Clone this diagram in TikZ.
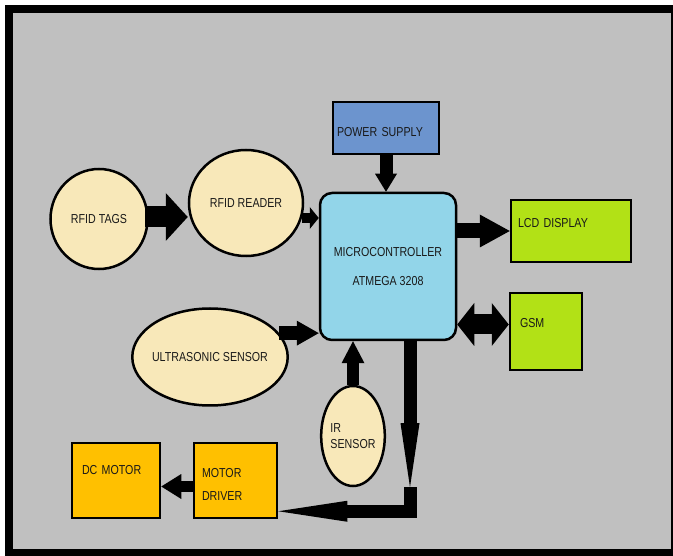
\documentclass[tikz,border=0pt]{standalone}
\usepackage{fontspec}
\setmainfont{Liberation Sans}[FakeStretch=0.82]
\usepackage{tikz}
\usetikzlibrary{arrows.meta,shapes.geometric,calc}
\definecolor{BgGray}{RGB}{192,192,192}
\definecolor{PsBlue}{RGB}{108,148,206}
\definecolor{McBlue}{RGB}{146,213,233}
\definecolor{Lime}{RGB}{178,225,22}
\definecolor{Amber}{RGB}{255,192,0}
\definecolor{Beige}{RGB}{248,232,185}
\definecolor{Ink}{RGB}{25,25,25}

\begin{document}
\begin{tikzpicture}[x=1pt, y=-1pt,
 oval/.style={draw=black, line width=2.5pt, ellipse, fill=Beige, inner sep=0pt, align=center},
 box/.style={draw=black, line width=2.5pt, align=left, inner ysep=0pt},
 ctrl/.style={draw=black, line width=2.5pt, rounded corners=12pt, fill=McBlue, align=center},
 arr/.style n args={3}{line width=#1, line join=miter, -{Triangle[length=#2,width=#3,line width=0pt]}},
 darr/.style n args={3}{line width=#1, {Triangle[length=#2,width=#3,line width=0pt]}-{Triangle[length=#2,width=#3,line width=0pt]}},
 font=\fontsize{13}{15}\selectfont, text=Ink
]
% frame
\fill[white] (0,0) rectangle (673,556);
\fill[black] (5,5) rectangle (673,556);
\fill[BgGray] (13,13) rectangle (671,549);

\node[box, fill=PsBlue, minimum width=106pt, minimum height=52pt, text width=98pt, text height=17pt, text depth=0.4pt] (power) at (386,128) {POWER SUPPLY};
\node[ctrl, minimum width=136pt, minimum height=147pt] (mc) at (388,266.5) {MICROCONTROLLER\\[14pt]ATMEGA 3208};
\node[box, fill=Lime, minimum width=120pt, minimum height=62pt, inner xsep=7pt, text width=106pt, text height=9pt, text depth=16.4pt] (lcd) at (571,231) {LCD DISPLAY};
\node[box, fill=Lime, minimum width=72pt, minimum height=77pt, inner xsep=10pt, text width=52pt, text height=9pt, text depth=17.4pt] (gsm) at (546,331.5) {GSM};
\node[box, fill=Amber, minimum width=88pt, minimum height=75pt, inner xsep=10pt, text width=68pt, text height=9pt, text depth=21.4pt] (motor) at (116,480.5) {DC MOTOR};
\node[box, fill=Amber, minimum width=83pt, minimum height=75pt, inner xsep=8pt, text width=67pt, text height=17pt] (driver) at (235.5,480.5) {MOTOR\\[9pt]DRIVER};

\node[oval, minimum width=97pt, minimum height=100pt] (tags) at (99,219) {RFID TAGS};
\node[oval, minimum width=114pt, minimum height=106pt] (reader) at (246,203) {RFID READER};
\node[oval, minimum width=154pt, minimum height=97pt, inner xsep=-3pt] (ultra) at (210,357) {ULTRASONIC SENSOR};
\node[oval, minimum width=62pt, minimum height=100pt, align=left] (ir) at (353,436) {IR\\[1pt]SENSOR};

\coordinate (tagout) at ($(tags.east)+(-4,-2)$);
\coordinate (gsmin) at ($(gsm.west)+(0,-7)$);
\coordinate (drop) at ($(mc.south)+(22,0)$);
\coordinate (mid) at ($(drop)+(0,146)$);
\coordinate (bend) at ($(drop)+(0,170)$);
\coordinate (drv) at ($(driver.west)+(0,6)$);

\draw[arr={21pt}{22pt}{48pt}] (tagout) -- (tagout -| reader.west);
\draw[arr={10pt}{9pt}{22pt}] (reader.-15) -- (reader.-15 -| mc.west);
\draw[arr={13pt}{18pt}{22pt}] (power) -- (power |- mc.north);
\draw[arr={15pt}{30pt}{33pt}] (lcd.west -| mc.east) -- (lcd.west);
\draw[darr={20pt}{17pt}{43pt}] (gsmin -| mc.east) -- (gsmin);
\draw[arr={14pt}{22pt}{25pt}] (ultra.19) -- (ultra.19 -| mc.west);
\draw[arr={12pt}{22pt}{23pt}] (ir) -- (ir |- mc.south);
\draw[arr={13pt}{64pt}{19pt}] (drop) -- (mid);
\draw[arr={13pt}{69pt}{21pt}] (mid) -- (bend) -- (bend -| driver.east);
\draw[arr={11pt}{20pt}{25pt}] (drv) -- (drv -| motor.east);
\end{tikzpicture}
\end{document}
